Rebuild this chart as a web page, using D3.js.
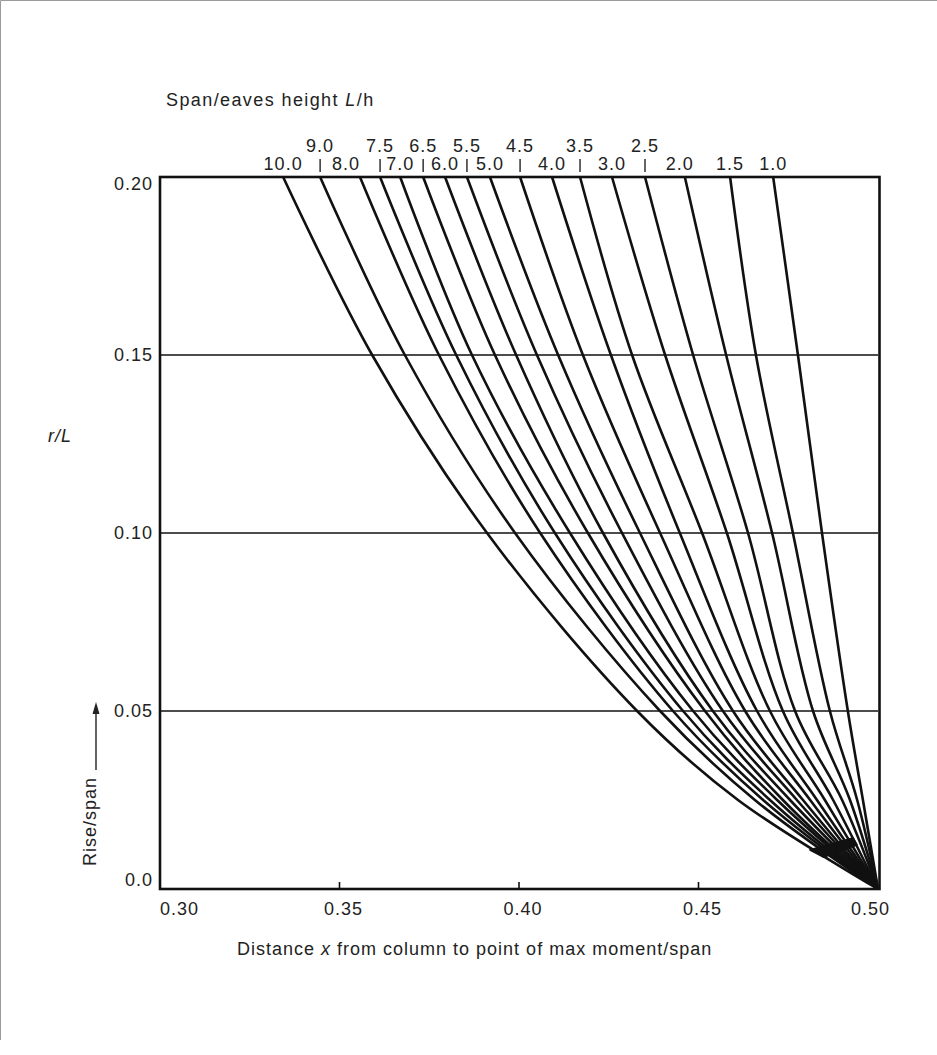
<!DOCTYPE html>
<html>
<head>
<meta charset="utf-8">
<script src="https://cdn.jsdelivr.net/npm/d3@7"></script>
<style>
  body { margin: 0; background: #fff; }
  svg text { font-family: "Liberation Sans", Arial, sans-serif; fill: #222; }
</style>
</head>
<body>
<svg id="chart"></svg>
<script>
// span / eaves height ratios, one curve each (left to right at the top)
const ratios = ["10.0", "9.0", "8.0", "7.5", "7.0", "6.5", "6.0", "5.5", "5.0", "4.5", "4.0", "3.5", "3.0", "2.5", "2.0", "1.5", "1.0"]
const upperRow = ["9.0", "7.5", "6.5", "5.5", "4.5", "3.5", "2.5"]

// rise/span levels where the curves were read
const riseLevels = [0.20, 0.15, 0.10, 0.05, 0.025, 0.0]

// x/span of each curve at every rise level (same order as ratios)
const xAt020  = [0.3343, 0.3446, 0.3557, 0.3613, 0.3669, 0.3733, 0.3794, 0.3855, 0.3919, 0.4003, 0.4092, 0.4170, 0.4259, 0.4351, 0.4462, 0.4588, 0.4708]
const xAt015  = [0.3591, 0.3682, 0.3777, 0.3825, 0.3869, 0.3933, 0.3992, 0.4050, 0.4109, 0.4178, 0.4256, 0.4315, 0.4407, 0.4485, 0.4577, 0.4660, 0.4777]
const xAt010  = [0.3911, 0.3989, 0.4059, 0.4100, 0.4142, 0.4192, 0.4234, 0.4287, 0.4337, 0.4393, 0.4448, 0.4510, 0.4579, 0.4638, 0.4705, 0.4763, 0.4844]
const xAt005  = [0.4329, 0.4393, 0.4429, 0.4457, 0.4485, 0.4518, 0.4540, 0.4568, 0.4596, 0.4630, 0.4663, 0.4699, 0.4735, 0.4769, 0.4819, 0.4866, 0.4916]
const xAt0025 = [0.4610, 0.4657, 0.4680, 0.4699, 0.4719, 0.4735, 0.4755, 0.4774, 0.4791, 0.4811, 0.4830, 0.4852, 0.4875, 0.4900, 0.4922, 0.4942, 0.4958]
const xAt000  = [0.50, 0.50, 0.50, 0.50, 0.50, 0.50, 0.50, 0.50, 0.50, 0.50, 0.50, 0.50, 0.50, 0.50, 0.50, 0.50, 0.50]

// dark ink blot where the curves bunch up near the bottom
const blotX = [0.4811, 0.4930, 0.4941, 0.4848]
const blotR = [0.0110, 0.0143, 0.0124, 0.0090]

const xTicks = [0.30, 0.35, 0.40, 0.45, 0.50]
const xTickLabels = ["0.30", "0.35", "0.40", "0.45", "0.50"]
const yTicks = [0.20, 0.15, 0.10, 0.05, 0.0]
const yTickLabels = ["0.20", "0.15", "0.10", "0.05", "0.0"]

const width = 937
const height = 1055

const svg = d3.select("#chart")
    .attr("width", width)
    .attr("height", height)

svg.append("rect")
    .attr("width", width).attr("height", height)
    .attr("fill", "#fff")

// faint frame of the scanned page
svg.append("path")
    .attr("d", "M0.5," + (height - 15) + "V0.5H" + width)
    .attr("fill", "none")
    .attr("stroke", "#9a9a9a")
    .attr("stroke-width", 1)

const x = d3.scaleLinear().domain([0.30, 0.50]).range([160, 878])
const y = d3.scaleLinear().domain([0, 0.20]).range([889, 177])

const columns = [xAt020, xAt015, xAt010, xAt005, xAt0025, xAt000]
const curves = ratios.map((r, i) => ({
    ratio: r,
    points: riseLevels.map((lev, j) => ({ r: lev, x: columns[j][i] }))
}))

// gridlines
svg.append("g").selectAll("line")
    .data([0.15, 0.10, 0.05])
    .enter().append("line")
    .attr("x1", x(0.30)).attr("x2", x(0.50))
    .attr("y1", d => y(d)).attr("y2", d => y(d))
    .attr("stroke", "#111")
    .attr("stroke-width", 1.6)

// curves
const line = d3.line()
    .x(d => x(d.x))
    .y(d => y(d.r))
    .curve(d3.curveCatmullRom.alpha(0.5))

svg.append("g").selectAll("path")
    .data(curves)
    .enter().append("path")
    .attr("d", d => line(d.points))
    .attr("fill", "none")
    .attr("stroke", "#111")
    .attr("stroke-width", 2.6)
    .attr("stroke-linejoin", "round")

svg.append("path")
    .datum(blotX.map((v, i) => [x(v), y(blotR[i])]))
    .attr("d", d => "M" + d.join("L") + "Z")
    .attr("fill", "#111")
    .attr("stroke", "#111")
    .attr("stroke-width", 2)
    .attr("stroke-linejoin", "round")

// plot frame
svg.append("rect")
    .attr("x", x(0.30)).attr("y", y(0.20))
    .attr("width", x(0.50) - x(0.30) + 1.5)
    .attr("height", y(0) - y(0.20))
    .attr("fill", "none")
    .attr("stroke", "#111")
    .attr("stroke-width", 2.6)

// x ticks (small marks pointing up into the plot)
svg.append("g").selectAll("line")
    .data(xTicks.slice(1, -1))
    .enter().append("line")
    .attr("x1", d => x(d)).attr("x2", d => x(d))
    .attr("y1", y(0)).attr("y2", y(0) - 7)
    .attr("stroke", "#111")
    .attr("stroke-width", 1.6)

svg.append("g").selectAll("text")
    .data(xTicks)
    .enter().append("text")
    .attr("x", (d, i) => i === 0 ? x(d) : (i === xTicks.length - 1 ? x(d) + 12 : x(d) + 4))
    .attr("y", 915)
    .attr("text-anchor", (d, i) => i === 0 ? "start" : (i === xTicks.length - 1 ? "end" : "middle"))
    .attr("font-size", 18)
    .attr("letter-spacing", 1)
    .text((d, i) => xTickLabels[i])

// y tick labels
svg.append("g").selectAll("text")
    .data(yTicks)
    .enter().append("text")
    .attr("x", 153)
    .attr("y", d => Math.min(Math.max(y(d), y(0.20) + 7), y(0) - 9))
    .attr("dy", "0.35em")
    .attr("text-anchor", "end")
    .attr("font-size", 18)
    .attr("letter-spacing", 1)
    .text((d, i) => yTickLabels[i])

// labels of the curves above the frame
const upper = new Set(upperRow)
const labelNudge = { "8.0": -14, "2.0": -5 }

svg.append("g").selectAll("text")
    .data(curves)
    .enter().append("text")
    .attr("x", d => x(d.points[0].x) + (labelNudge[d.ratio] || 0))
    .attr("y", d => upper.has(d.ratio) ? 152 : 170)
    .attr("text-anchor", "middle")
    .attr("font-size", 18)
    .attr("letter-spacing", 1)
    .text(d => d.ratio)

svg.append("g").selectAll("line")
    .data(curves.filter(d => upper.has(d.ratio)))
    .enter().append("line")
    .attr("x1", d => x(d.points[0].x)).attr("x2", d => x(d.points[0].x))
    .attr("y1", 159).attr("y2", 172)
    .attr("stroke", "#222")
    .attr("stroke-width", 1.4)

// titles
const title = svg.append("text")
    .attr("x", 166).attr("y", 106)
    .attr("font-size", 18)
    .attr("letter-spacing", 1.4)
title.append("tspan").text("Span/eaves height ")
title.append("tspan").attr("font-style", "italic").text("L")
title.append("tspan").text("/h")

const rl = svg.append("text")
    .attr("x", 48).attr("y", 442)
    .attr("font-size", 18)
    .attr("font-style", "italic")
    .attr("letter-spacing", 1)
    .text("r/L")

const xt = svg.append("text")
    .attr("x", 237).attr("y", 955)
    .attr("font-size", 18)
    .attr("letter-spacing", 1)
xt.append("tspan").text("Distance ")
xt.append("tspan").attr("font-style", "italic").text("x")
xt.append("tspan").text(" from column to point of max moment/span")

svg.append("text")
    .attr("transform", "translate(96,866) rotate(-90)")
    .attr("font-size", 18)
    .attr("letter-spacing", 1)
    .text("Rise/span")

// arrow next to Rise/span
svg.append("line")
    .attr("x1", 96).attr("x2", 96)
    .attr("y1", 770).attr("y2", 712)
    .attr("stroke", "#222")
    .attr("stroke-width", 1.4)
svg.append("path")
    .attr("d", "M96,702L92.5,714L99.5,714Z")
    .attr("fill", "#222")
</script>
</body>
</html>
